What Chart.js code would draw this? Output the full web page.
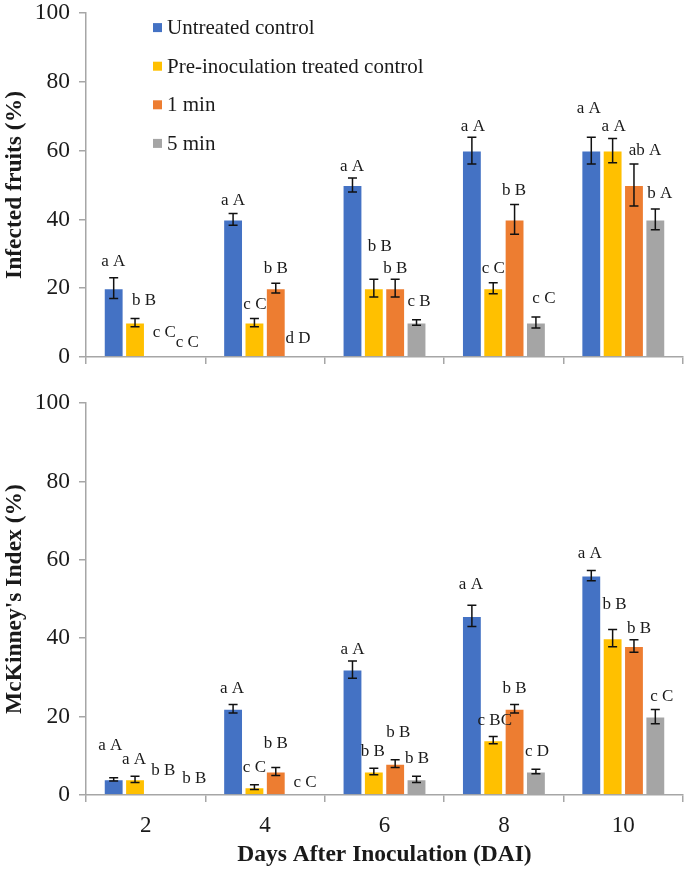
<!DOCTYPE html>
<html><head><meta charset="utf-8">
<script src="https://cdn.jsdelivr.net/npm/chart.js@4.4.0/dist/chart.umd.min.js"></script>
<style>
html,body{margin:0;padding:0;background:#fff;width:685px;height:871px;overflow:hidden;position:relative}
canvas{position:absolute;left:0}
#c1{top:-10px}
#c2{top:380px}
</style></head><body>
<canvas id="c1" width="685" height="390"></canvas>
<canvas id="c2" width="685" height="491"></canvas>
<script>
// ---- data ----
const categories = ['2', '4', '6', '8', '10'];
const seriesNames = ['Untreated control', 'Pre-inoculation treated control', '1 min', '5 min'];
const yTicks = [0, 20, 40, 60, 80, 100];

// Infected fruits (%)
const infUntreated = [20, 40, 50, 60, 60];
const infPre       = [10, 10, 20, 20, 60];
const inf1min      = [0, 20, 20, 40, 50];
const inf5min      = [0, 0, 10, 10, 40];
const infErrUntreated = [3, 1.7, 2, 3.9, 3.9];
const infErrPre       = [1.2, 1.2, 2.6, 1.6, 3.5];
const infErr1min      = [0, 1.4, 2.6, 4.3, 6.1];
const infErr5min      = [0, 0, 0.8, 1.6, 3];
const infLetUntreated = ['a A', 'a A', 'a A', 'a A', 'a A'];
const infLetPre       = ['b B', 'c C', 'b B', 'c C', 'a A'];
const infLet1min      = ['c C', 'b B', 'b B', 'b B', 'ab A'];
const infLet5min      = ['c C', 'd D', 'c B', 'c C', 'b A'];

// McKinney's Index (%)
const mckUntreated = [4, 22, 32, 45.7, 56];
const mckPre       = [4, 2, 6, 14, 40];
const mck1min      = [0, 6, 8, 22, 38];
const mck5min      = [0, 0, 4, 6, 20];
const mckErrUntreated = [0.4, 1.1, 2.2, 2.7, 1.3];
const mckErrPre       = [0.8, 0.6, 0.85, 0.9, 2.2];
const mckErr1min      = [0, 1, 1, 1.1, 1.6];
const mckErr5min      = [0, 0, 0.8, 0.6, 1.8];
const mckLetUntreated = ['a A', 'a A', 'a A', 'a A', 'a A'];
const mckLetPre       = ['a A', 'c C', 'b B', 'c BC', 'b B'];
const mckLet1min      = ['b B', 'b B', 'b B', 'b B', 'b B'];
const mckLet5min      = ['b B', 'c C', 'b B', 'c D', 'c C'];

// ---- label placement (value-axis height of label centre, px shift from bar centre) ----
const infLabelY = [[27.6,45.4,55.4,67.1,72.1],[16.4,15.3,32.0,25.6,66.9],[7.0,25.6,25.6,48.5,59.9],[4.2,5.3,16.2,17.0,47.4]];
const infLabelDx = [[-0.5,0,-0.5,1,-2.5],[9,0.5,6,0,1],[8,0,0,-0.5,11],[9.5,1,2.5,8,4.5]];
const mckLabelY = [[12.7,27.2,37.1,53.6,61.7],[9.1,7.1,11.2,19.0,48.7],[6.3,13.2,16.0,27.2,42.6],[4.3,3.3,9.4,11.2,25.1]];
const mckLabelDx = [[-3.5,-1,0,-1,-1.5],[-1,0,-1,1.5,2],[7,0,3,0,5],[16.5,8,0.5,1,6.5]];

// ---- styles ----
const colors = ['#4472C4', '#FFC000', '#ED7D31', '#A5A5A5'];
const SERIF = '"Liberation Serif"';
const axisColor = '#a6a6a6';
const textColor = '#1a1a1a';

const errorBarPlugin = {
  id: 'errorBars',
  afterDatasetsDraw(chart) {
    const ctx = chart.ctx, ys = chart.scales.y;
    ctx.save();
    ctx.strokeStyle = '#111';
    ctx.lineWidth = 1.5;
    chart.data.datasets.forEach((ds, di) => {
      const meta = chart.getDatasetMeta(di);
      meta.data.forEach((el, i) => {
        const e = ds.errors[i];
        if (!e) return;
        const v = ds.data[i];
        const yt = ys.getPixelForValue(v + e), yb = ys.getPixelForValue(v - e);
        const x = el.x, w = 4.5;
        ctx.beginPath();
        ctx.moveTo(x, yt); ctx.lineTo(x, yb);
        ctx.moveTo(x - w, yt); ctx.lineTo(x + w, yt);
        ctx.moveTo(x - w, yb); ctx.lineTo(x + w, yb);
        ctx.stroke();
      });
    });
    ctx.restore();
  }
};

const letterPlugin = {
  id: 'letters',
  afterDatasetsDraw(chart) {
    const ctx = chart.ctx, ys = chart.scales.y;
    ctx.save();
    ctx.fillStyle = textColor;
    ctx.font = '17px ' + SERIF;
    ctx.textAlign = 'center';
    ctx.textBaseline = 'middle';
    chart.data.datasets.forEach((ds, di) => {
      const meta = chart.getDatasetMeta(di);
      meta.data.forEach((el, i) => {
        ctx.fillText(ds.letters[i], el.x + ds.labelDx[i], ys.getPixelForValue(ds.labelY[i]));
      });
    });
    ctx.restore();
  }
};

const innerLegendPlugin = {
  id: 'innerLegend',
  afterDraw(chart, args, opts) {
    if (!opts.show) return;
    const ctx = chart.ctx, a = chart.chartArea;
    ctx.save();
    ctx.font = '21px ' + SERIF;
    ctx.textBaseline = 'middle';
    ctx.textAlign = 'left';
    chart.data.datasets.forEach((ds, i) => {
      const y = a.top + 14.5 + i * 38.6;
      ctx.fillStyle = ds.backgroundColor;
      ctx.fillRect(a.left + 67, y - 4.5, 9, 9);
      ctx.fillStyle = textColor;
      ctx.fillText(ds.label, a.left + 81, y + 1);
    });
    ctx.restore();
  }
};

function makeChart(id, series, errs, letters, labY, labDx, yTitle, showX, padTop, xHeight) {
  const datasets = series.map((vals, i) => ({
    label: seriesNames[i],
    data: vals,
    errors: errs[i],
    letters: letters[i],
    labelY: labY[i],
    labelDx: labDx[i],
    backgroundColor: colors[i],
    borderColor: 'rgba(255,255,255,0.45)',
    borderWidth: 1,
    categoryPercentage: 0.715,
    barPercentage: 0.93
  }));
  return new Chart(document.getElementById(id), {
    type: 'bar',
    data: { labels: categories, datasets },
    plugins: [errorBarPlugin, letterPlugin, innerLegendPlugin],
    options: {
      responsive: false,
      animation: false,
      devicePixelRatio: 1,
      font: { family: SERIF },
      layout: { padding: { top: padTop, right: 2, left: 0, bottom: 0 } },
      plugins: {
        legend: { display: false },
        tooltip: { enabled: false },
        innerLegend: { show: !showX }
      },
      scales: {
        x: {
          offset: true,
          grid: { display: true, drawOnChartArea: false, offset: true, tickLength: 7, color: axisColor, lineWidth: 1.5 },
          border: { display: true, color: axisColor, width: 1.5 },
          ticks: { display: showX, font: { family: SERIF, size: 23 }, color: textColor, padding: 10 },
          title: { display: showX, text: 'Days After Inoculation (DAI)', font: { family: SERIF, size: 23.5, weight: 'bold' }, color: textColor, padding: { top: 0, bottom: 2 } },
          afterFit: s => { s.height = xHeight; }
        },
        y: {
          min: 0, max: 100,
          afterBuildTicks: s => { s.ticks = yTicks.map(v => ({ value: v })); },
          grid: { display: true, drawOnChartArea: false, tickLength: 7, color: axisColor, lineWidth: 1.5 },
          border: { display: true, color: axisColor, width: 1.5 },
          ticks: { font: { family: SERIF, size: 23.5 }, color: textColor, padding: 9 },
          title: { display: true, text: yTitle, font: { family: SERIF, size: 23.5, weight: 'bold' }, color: textColor, padding: { top: 1, bottom: 0 } },
          afterFit: s => { s.width = 86; }
        }
      }
    }
  });
}

makeChart('c1',
  [infUntreated, infPre, inf1min, inf5min],
  [infErrUntreated, infErrPre, infErr1min, infErr5min],
  [infLetUntreated, infLetPre, infLet1min, infLet5min],
  infLabelY, infLabelDx, 'Infected fruits (%)', false, 18, 13);

makeChart('c2',
  [mckUntreated, mckPre, mck1min, mck5min],
  [mckErrUntreated, mckErrPre, mckErr1min, mckErr5min],
  [mckLetUntreated, mckLetPre, mckLet1min, mckLet5min],
  mckLabelY, mckLabelDx, "McKinney's Index (%)", true, 21, 76);
</script>
</body></html>
